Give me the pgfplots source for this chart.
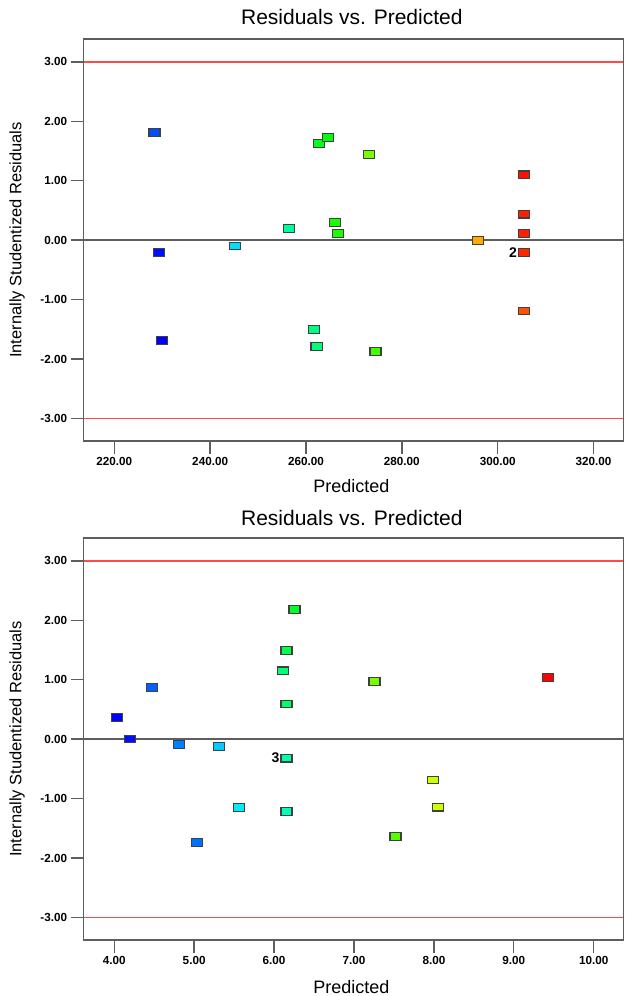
\documentclass[border=0pt]{standalone}
\usepackage{fontspec}
\setmainfont{Liberation Sans}
\usepackage{pgfplots}
\pgfplotsset{compat=1.18}
\usepackage{pgfplotstable}

\pgfplotstableread{
x y c
228.4 1.815 0.31
229.3 -0.21 0.05
230.0 -1.69 0.0
245.1 -0.10 0.87
256.4 0.197 1.4
261.6 -1.50 1.5
262.2 -1.79 1.53
262.7 1.63 1.9
264.6 1.73 1.95
266.1 0.30 2.1
266.7 0.11 2.1
273.1 1.44 2.47
274.5 -1.87 2.25
295.8 -0.01 3.33
305.5 1.10 3.94
305.5 0.437 3.88
305.5 0.11 3.88
305.5 -0.21 3.85
305.5 -1.19 3.68
}\topdata

\pgfplotstableread{
x y c
4.039 0.365 0.0
4.194 0.0 0.06
4.468 0.865 0.38
4.807 -0.09 0.5
5.031 -1.74 0.44
5.309 -0.12 0.8
5.558 -1.15 0.93
6.116 1.15 1.53
6.156 0.59 1.6
6.156 1.49 1.73
6.256 2.18 1.85
6.156 -0.32 1.33
6.156 -1.22 1.27
7.257 0.97 2.47
7.52 -1.64 2.33
7.984 -0.69 2.8
8.05 -1.145 2.8
9.433 1.04 4.0
}\botdata

\definecolor{axgray}{HTML}{5E5E5E}
\definecolor{reflred}{HTML}{FF4A4A}

\pgfplotsset{
  resid/.style={
    scale only axis, width=539.7pt, height=402pt,
    anchor=south west,
    axis line style={draw=axgray, line width=1.3pt},
    tick style={draw=axgray, line width=1.3pt},
    major tick length=13pt, tick align=outside, tick pos=left,
    ymin=-3.38, ymax=3.385, ytick={-3,-2,-1,0,1,2,3},
    ticklabel style={font=\bfseries\fontsize{11.7}{12}\selectfont},
    /pgf/number format/fixed,
    /pgf/number format/fixed zerofill,
    /pgf/number format/precision=2,
    /pgf/number format/assume math mode=true,
    title={Residuals vs. Predicted},
    title style={font=\fontsize{21}{21}\selectfont, anchor=center},
    xlabel={Predicted},
    ylabel={Internally Studentized Residuals},
    xlabel style={font=\fontsize{18}{18}\selectfont, anchor=center},
    ylabel style={font=\fontsize{16.5}{16.5}\selectfont, anchor=center, at={(axis description cs:-0.123,0.5)}},
    colormap={dx}{rgb255(0cm)=(0,0,255); rgb255(1cm)=(0,255,255); rgb255(2cm)=(0,255,0); rgb255(3cm)=(255,255,0); rgb255(4cm)=(255,0,0)},
    point meta min=0, point meta max=4,
    clip=false,
  },
  resmarks/.style={
    scatter, only marks, mark=square*, mark size=3.8pt,
    mark options={xscale=1.45, line width=1.1pt},
    scatter/use mapped color={draw=black!75, fill=mapped color},
    point meta=explicit,
  },
  refline/.style={reflred, line width=1.5pt},
}

\begin{document}
\begin{tikzpicture}
\path[use as bounding box] (0,0) rectangle (624pt,996pt);

\begin{axis}[resid, at={(83.6pt,555pt)},
  xmin=213.6, xmax=326.2, xtick={220,240,260,280,300,320},
  title style={at={(axis description cs:0.497,1.0398)}},
  xlabel style={at={(axis description cs:0.496,-0.112)}},
]
\addplot[refline] coordinates {(213.6,3) (326.2,3)};
\addplot[refline] coordinates {(213.6,-3) (326.2,-3)};
\addplot[axgray, line width=1.3pt] coordinates {(213.6,0) (326.2,0)};
\addplot[resmarks] table[x=x, y=y, meta=c] {\topdata};
\node[anchor=east, inner sep=0pt, xshift=-7pt, font=\bfseries\fontsize{14}{14}\selectfont] at (axis cs:305.5,-0.21) {2};
\end{axis}

\begin{axis}[resid, at={(83.6pt,56pt)},
  xmin=3.617, xmax=10.37, xtick={4,5,6,7,8,9,10},
  title style={at={(axis description cs:0.497,1.0358)}},
  xlabel style={at={(axis description cs:0.496,-0.116)}},
]
\addplot[refline] coordinates {(3.617,3) (10.37,3)};
\addplot[refline] coordinates {(3.617,-3) (10.37,-3)};
\addplot[axgray, line width=1.3pt] coordinates {(3.617,0) (10.37,0)};
\addplot[resmarks] table[x=x, y=y, meta=c] {\botdata};
\node[anchor=east, inner sep=0pt, xshift=-7pt, font=\bfseries\fontsize{14}{14}\selectfont] at (axis cs:6.156,-0.32) {3};
\end{axis}
\end{tikzpicture}
\end{document}
